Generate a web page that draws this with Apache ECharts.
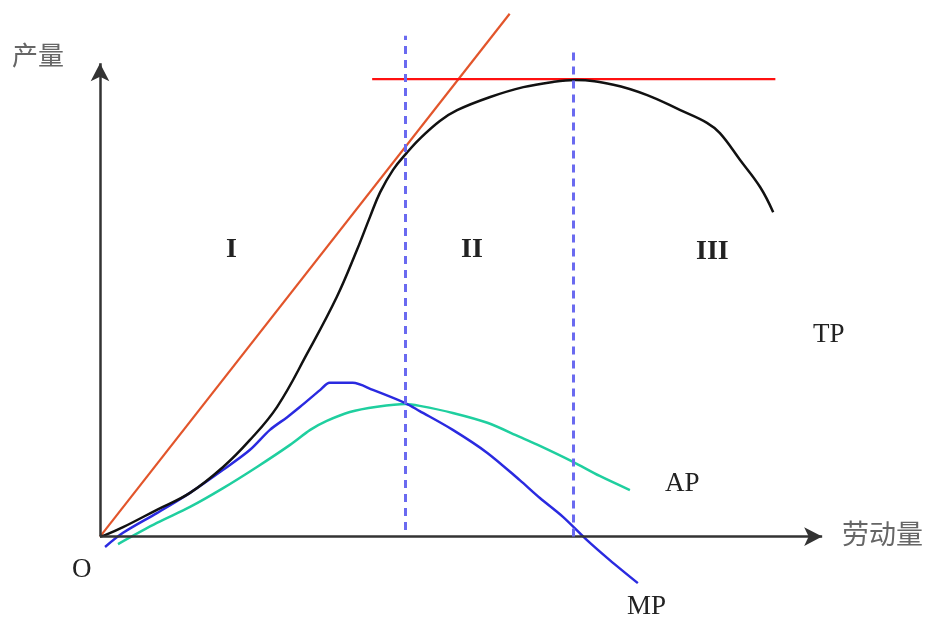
<!DOCTYPE html>
<html lang="zh-CN">
<head>
  <meta charset="UTF-8">
  <title>生产三阶段</title>
  <script src="https://cdn.jsdelivr.net/npm/echarts@6/dist/echarts.min.js"></script>
  <style>
    html, body { margin: 0; padding: 0; background: #fff; }
    #main { width: 934px; height: 623px; }
  </style>
</head>
<body>
  <div id="main"></div>
  <script>
    // 总产量 TP
    var tpData = [
      [0, 0], [0.7, 0.3], [3.2, 2.0], [7.9, 5.7], [12.5, 9.3], [17.1, 14.8],
      [20.8, 20.5], [24.6, 27.6], [28.8, 39.0], [32.9, 51.0], [35.7, 61.0],
      [37.5, 68.0], [38.9, 73.2], [40.7, 78.0], [42.6, 81.6], [44.4, 84.6],
      [47.2, 88.4], [49.6, 90.7], [54.2, 93.5], [58.8, 95.6], [62.9, 96.7],
      [66.0, 97.1], [71.3, 96.1], [76.0, 93.9], [80.6, 90.7], [84.3, 88.0],
      [86.1, 85.8], [88.9, 80.1], [91.7, 74.3], [93.5, 69.0]
    ];
    // 边际产量 MP
    var mpData = [
      [0.7, -2.2], [3.2, 0.8], [7.9, 5.0], [12.5, 9.3], [17.1, 14.2],
      [20.8, 18.4], [23.6, 22.7], [26.0, 25.4], [27.8, 27.6], [30.6, 31.2],
      [31.9, 32.7], [35.1, 32.7], [37.9, 31.2], [42.4, 28.4], [44.4, 26.7],
      [49.0, 22.7], [53.8, 17.8], [58.3, 12.0], [61.1, 8.2], [64.3, 4.2],
      [67.6, -0.7], [70.8, -5.0], [74.7, -9.9]
    ];
    // 平均产量 AP
    var apData = [
      [2.5, -1.6], [7.9, 2.9], [12.5, 6.3], [17.1, 10.3], [21.8, 14.8],
      [26.4, 19.5], [29.2, 22.7], [31.5, 24.6], [34.7, 26.5], [38.5, 27.6],
      [42.4, 28.2], [44.4, 27.8], [49.0, 26.3], [53.8, 24.2], [58.3, 21.2],
      [61.1, 19.3], [65.7, 15.9], [69.4, 12.9], [73.6, 9.9]
    ];
    // 切线、最高点水平线、阶段分界
    var tangentLine = [[0, 0], [56.9, 111.2]];
    var maxLine = [[37.8, 97.3], [93.8, 97.3]];
    var stageBounds = [
      [[42.4, 1.4], [42.4, 106.5]],
      [[65.7, 0], [65.7, 103.9]]
    ];
    var axisEnds = { x: [100.3, 0], y: [0, 100.7] };
    var stageNames = ['I', 'II', 'III'];
    var curveNames = ['TP', 'AP', 'MP'];
    var axisNames = ['产量', '劳动量', 'O'];

    var chart = echarts.init(document.getElementById('main'));

    var serif = '"Liberation Serif", "DejaVu Serif", serif';
    var cjk = '"Noto Sans CJK SC", sans-serif';
    function txt(x, y, s, size, weight, font, color) {
      return {
        type: 'text', left: x, top: y,
        style: { text: s, fontSize: size, fontWeight: weight || 'normal',
          fontFamily: font || serif, fill: color || '#222' }
      };
    }

    var option = {
      animation: false,
      grid: { left: 100, right: 99.6, top: 10, bottom: 30 },
      xAxis: { type: 'value', min: 0, max: 102, show: false },
      yAxis: { type: 'value', min: -12, max: 112, show: false },
      series: [
        {
          name: 'axes', type: 'line', data: [[0, 0]], symbol: 'none', silent: true,
          clip: false,
          markLine: {
            silent: true,
            symbol: ['none', 'arrow'],
            symbolSize: [14, 18],
            label: { show: false },
            lineStyle: { color: '#333', width: 2.5, type: 'solid' },
            data: [
              [{ coord: [0, 0] }, { coord: axisEnds.x }],
              [{ coord: [0, 0] }, { coord: axisEnds.y }]
            ]
          }
        },
        {
          name: 'stages', type: 'line', data: [[0, 0]], symbol: 'none', silent: true,
          clip: false,
          markLine: {
            silent: true, symbol: ['none', 'none'], label: { show: false },
            lineStyle: { color: '#6a6af0', width: 3, type: [8, 6] },
            data: stageBounds.map(function (b) {
              return [{ coord: b[0] }, { coord: b[1] }];
            })
          }
        },
        {
          name: 'tangent', type: 'line', data: tangentLine, symbol: 'none', clip: false,
          lineStyle: { color: '#e2552b', width: 2.2 }
        },
        {
          name: 'max', type: 'line', data: maxLine, symbol: 'none', clip: false,
          lineStyle: { color: '#ff1010', width: 2.2 }
        },
        {
          name: 'AP', type: 'line', data: apData, symbol: 'none', smooth: 0.3, clip: false,
          lineStyle: { color: '#1fcf9f', width: 2.5 }
        },
        {
          name: 'MP', type: 'line', data: mpData, symbol: 'none', smooth: 0.3, clip: false,
          lineStyle: { color: '#2a2ae0', width: 2.5 }
        },
        {
          name: 'TP', type: 'line', data: tpData, symbol: 'none', smooth: 0.4, clip: false,
          lineStyle: { color: '#111', width: 2.5 }
        }
      ],
      graphic: [
        txt(12, 42, axisNames[0], 26, 'normal', cjk, '#666'),
        txt(842, 520, axisNames[1], 27, 'normal', cjk, '#666'),
        txt(72, 556, axisNames[2], 27),
        txt(226, 236, stageNames[0], 28, 'bold'),
        txt(461, 236, stageNames[1], 28, 'bold'),
        txt(696, 238, stageNames[2], 28, 'bold'),
        txt(813, 321, curveNames[0], 27),
        txt(665, 470, curveNames[1], 27),
        txt(627, 593, curveNames[2], 27)
      ]
    };
    chart.setOption(option);
  </script>
</body>
</html>
